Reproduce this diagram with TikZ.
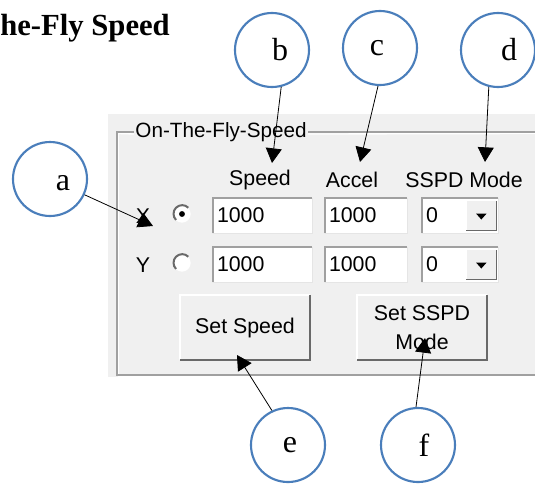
\documentclass[tikz,border=0pt]{standalone}
\usepackage{fontspec}
\setmainfont{Liberation Serif}
\setsansfont{Liberation Sans}
\usetikzlibrary{arrows.meta}
\definecolor{panelgray}{RGB}{240,240,240}
\definecolor{edgegray}{RGB}{160,160,160}
\definecolor{darkedge}{RGB}{105,105,105}
\definecolor{bubblue}{RGB}{74,126,187}
\newcommand{\guifont}{\sffamily\fontsize{16}{21.5}\selectfont}

\begin{document}
\begin{tikzpicture}[
      x=0.75pt, y=-0.75pt,
      bubble/.style={circle, draw=bubblue, line width=1.6pt, minimum size=55.5pt, inner sep=0pt},
      letter/.style={font=\fontsize{24}{28}\selectfont},
      callout/.style={line width=0.6pt, -{Triangle[length=11pt,width=12pt]}},
      field/.style={rectangle, fill=white, inner xsep=3pt, text width=#1, align=left,
                    minimum height=26.25pt, font=\guifont},
      sunken/.style={draw=edgegray, line width=1.5pt},
      raised/.style={rectangle, fill=panelgray, minimum width=97.5pt, minimum height=48.75pt,
                     align=center, font=\guifont},
      radio/.style={circle, fill=white, minimum size=13pt, inner sep=0pt}
    ]
      \useasboundingbox (0,0) rectangle (535,483);

      % caption at the top left
      \node[font=\bfseries\fontsize{23}{27}\selectfont, anchor=base west, inner xsep=0pt] (title) at (0,35) {he-Fly Speed};

      % dialog panel and group box
      \fill[panelgray] (108,114) rectangle (535,377);
      \node[font=\sffamily\fontsize{15.5}{18}\selectfont, fill=panelgray, inner sep=1pt] (cap) at (221,132) {On-The-Fly-Speed};
      \draw[white, line width=1pt] ([yshift=-1.5pt]cap.west) -- (118.5,133.5) |- (535,376.5);
      \draw[white, line width=1pt] ([yshift=-1.5pt]cap.east) -- (535,133.5);
      \draw[edgegray, line width=1pt] (cap.west) -- (117,132) |- (535,375);
      \draw[edgegray, line width=1pt] (cap.east) -- (535,132);

      % column headers
      \node[font=\guifont] (hsp) at (260,180) {Speed};
      \node[font=\guifont] (hac) at (352,180) {Accel};
      \node[font=\guifont] (hmd) at (464,180) {SSPD Mode};

      % rows X and Y
      \foreach \r/\yy/\ax in {1/215.5/X, 2/264.5/Y} {
        \node[font=\guifont] (l\r) at (143,\yy+1) {\ax};
        \node[radio] (rb\r) at (182,\yy-1.5) {};
        \draw[darkedge, line width=1.5pt] (rb\r.45) arc[start angle=45, end angle=225, radius=6.5pt];
        \node[field=68.25pt] (sp\r) at (262.5,\yy) {1000};
        \node[field=55.5pt] (ac\r) at (366,\yy) {1000};
        \node[field=51pt] (md\r) at (460,\yy) {0};
        \foreach \f in {sp,ac,md} {
          \draw[sunken] (\f\r.south west) |- (\f\r.north east);
          \draw[gray!20, line width=1pt] (\f\r.south west) -| (\f\r.north east);
        }
        % drop-down button
        \node[rectangle, fill=panelgray, minimum width=22pt, minimum height=22pt, anchor=east]
          (dd\r) at ([xshift=-1.5pt]md\r.east) {};
        \draw[white, line width=1pt] (dd\r.south west) |- (dd\r.north east);
        \draw[darkedge, line width=1pt] (dd\r.south west) -| (dd\r.north east);
        \fill (dd\r.center) ++(-4pt,1.5pt) -- ++(8pt,0pt) -- ++(-4pt,-4.5pt) -- cycle;
      }
      \fill (rb1) circle[radius=2.2pt];

      % buttons
      \node[raised] (bspd) at (245,327.5) {Set Speed};
      \node[raised] (bmode) at (422,327.5) {Set SSPD\\Mode};
      \foreach \b in {bspd,bmode} {
        \draw[white, line width=1.5pt] (\b.south west) |- (\b.north east);
        \draw[darkedge, line width=1.5pt] (\b.south west) -| (\b.north east);
      }

      % call-out bubbles
      \node[bubble, label={[letter,xshift=9.75pt,yshift=-3pt]center:a}] (a) at (50,179) {};
      \node[bubble, label={[letter,xshift=6pt]center:b}] (b) at (272,50) {};
      \node[bubble, label={[letter,xshift=-2.25pt]center:c}] (c) at (380,48) {};
      \node[bubble, label={[letter,xshift=8.25pt]center:d}] (d) at (498,50) {};
      \node[bubble, label={[letter,xshift=1.5pt]center:e}] (e) at (288,445) {};
      \node[bubble, label={[letter,xshift=4.5pt]center:f}] (f) at (418,445) {};

      \coordinate (ta) at (153,226);
      \coordinate (tb) at (272,163);
      \coordinate (tc) at (360,162);
      \coordinate (td) at (485,162);
      \coordinate (te) at (237,355);
      \coordinate (tf) at (425,338);

      \draw[callout] (a) -- (ta);
      \draw[callout] (b.-76) -- (tb);
      \draw[callout] (c.-93) -- (tc);
      \draw[callout] (d.-104) -- (td);
      \draw[callout] (e.115) -- (te);
      \draw[callout] (f.93) -- (tf);
    \end{tikzpicture}
\end{document}
